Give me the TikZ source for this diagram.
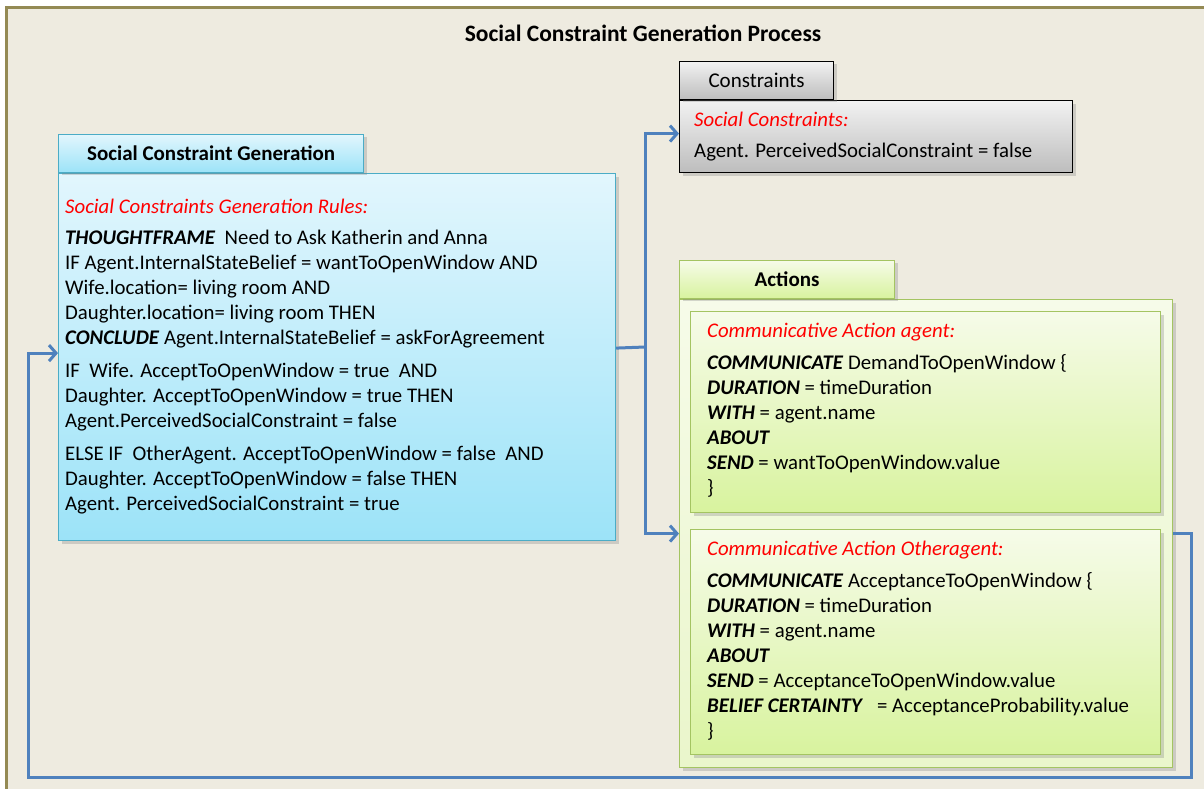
\documentclass[tikz,border=0pt]{standalone}
\usepackage{fontspec}
\setmainfont{Carlito}
\usepackage{tikz}
\usetikzlibrary{positioning,arrows.meta,shadows}
\definecolor{bgcol}{RGB}{238,235,224}
\definecolor{framecol}{HTML}{948A54}
\definecolor{flowblue}{HTML}{4F81BD}
\definecolor{cyanline}{HTML}{4BACC6}
\definecolor{cyantop}{HTML}{E2F6FD}
\definecolor{cyanbot}{HTML}{9CE3F8}
\definecolor{graytop}{HTML}{F2F2F2}
\definecolor{graybot}{HTML}{BDBDBD}
\definecolor{greenline}{HTML}{A4C462}
\definecolor{greentop}{HTML}{F6FBE9}
\definecolor{greenbot}{HTML}{D8F39E}
\definecolor{greenpale}{HTML}{EAF6CB}
\newcommand{\kw}[1]{\textbf{\textit{#1}}}
\newcommand{\rulehead}[1]{\textcolor{red}{\textit{#1}}}

\begin{document}
\begin{tikzpicture}[x=1pt,y=-1pt,
    txt/.style={align=left,inner sep=0pt,font=\fontsize{20.8}{25}\selectfont},
    panel/.style={rectangle,line width=1.2pt,anchor=north west,
                  drop shadow={opacity=0.3,shadow xshift=3pt,shadow yshift=-3pt}},
    cyanbox/.style={panel,draw=cyanline,top color=cyantop,bottom color=cyanbot},
    graybox/.style={panel,draw=black,top color=graytop,bottom color=graybot},
    greenbox/.style={panel,draw=greenline,top color=greentop,bottom color=greenbot},
    tab/.style={minimum height=38pt,font=\fontsize{21}{24}\selectfont},
    flowline/.style={draw=flowblue,line width=3pt},
    flow/.style={flowline,-{Straight Barb[length=7pt,width=16pt]}}]
    \useasboundingbox (0,0) rectangle (1204,789);
    \fill[white] (0,0) rectangle (1204,789);
    \draw[framecol,line width=3pt,fill=bgcol] (6,8) rectangle (1220,800);
    \node[font=\fontsize{23.5}{26}\selectfont\bfseries] (title) at (643,33) {Social Constraint Generation Process};

    \node[cyanbox,minimum width=557pt,minimum height=367pt] (scg) at (58,173) {};
    \node[cyanbox,tab,minimum width=305pt,font=\fontsize{21}{24}\selectfont\bfseries,
          above right=0pt and 0pt of scg.north west] (scgtab) {Social Constraint Generation};
    \node[txt,below right=26pt and 7pt of scg.north west] (rules) {%
      \rulehead{Social Constraints Generation Rules:}\\[6pt]
      \kw{THOUGHTFRAME}\ \ Need to Ask Katherin and Anna\\
      IF Agent.InternalStateBelief = wantToOpenWindow AND\\
      Wife.location= living room AND\\
      Daughter.location= living room THEN\\
      \kw{CONCLUDE} Agent.InternalStateBelief = askForAgreement\\[8pt]
      IF\ \ Wife. AcceptToOpenWindow = true\ \ AND\\
      Daughter. AcceptToOpenWindow = true THEN\\
      Agent.PerceivedSocialConstraint = false\\[8pt]
      ELSE IF\ \ OtherAgent. AcceptToOpenWindow = false\ \ AND\\
      Daughter. AcceptToOpenWindow = false THEN\\
      Agent. PerceivedSocialConstraint = true};

    \node[graybox,minimum width=393pt,minimum height=72pt] (cons) at (679,100) {};
    \node[graybox,tab,minimum width=154pt,above right=0pt and 0pt of cons.north west] (constab) {Constraints};
    \node[txt,below right=12pt and 15pt of cons.north west] (constxt) {%
      \rulehead{Social Constraints:}\\[6pt]
      Agent. PerceivedSocialConstraint = false};

    \node[greenbox,top color=greentop,bottom color=greenpale,minimum width=493pt,minimum height=468pt] (actions) at (679,299) {};
    \node[greenbox,tab,minimum width=215pt,font=\fontsize{21}{24}\selectfont\bfseries,
          above right=0pt and 0pt of actions.north west] (acttab) {Actions};
    \node[greenbox,minimum width=470pt,minimum height=201pt] (agent) at (690,311) {};
    \node[txt,below right=12pt and 17pt of agent.north west] (agenttxt) {%
      \rulehead{Communicative Action agent:}\\[7pt]
      \kw{COMMUNICATE} DemandToOpenWindow \{\\
      \kw{DURATION} = timeDuration\\
      \kw{WITH} = agent.name\\
      \kw{ABOUT}\\
      \kw{SEND} = wantToOpenWindow.value\\
      \}};
    \node[greenbox,minimum width=470pt,minimum height=225pt] (other) at (690,529) {};
    \node[txt,below right=12pt and 17pt of other.north west] (othertxt) {%
      \rulehead{Communicative Action Otheragent:}\\[7pt]
      \kw{COMMUNICATE} AcceptanceToOpenWindow \{\\
      \kw{DURATION} = timeDuration\\
      \kw{WITH} = agent.name\\
      \kw{ABOUT}\\
      \kw{SEND} = AcceptanceToOpenWindow.value\\
      \kw{BELIEF CERTAINTY}\ \ \ = AcceptanceProbability.value\\
      \}};

    \coordinate (split) at (645,347);
    \coordinate (loopbr) at (1191,777);
    \coordinate (loopbl) at (28,777);
    \draw[flowline] ([yshift=9pt]scg.east) -- (split);
    \draw[flow] (split) |- ([yshift=3pt]cons.west);
    \draw[flow] (split) |- (actions.west);
    \draw[flow] (actions.east) -| (loopbr) -- (loopbl) |- ([yshift=4pt]scg.west);
  \end{tikzpicture}
\end{document}
